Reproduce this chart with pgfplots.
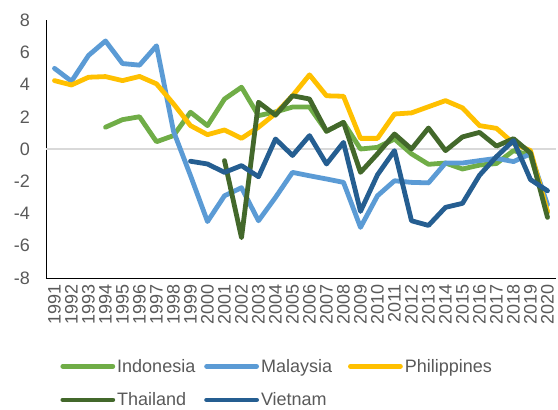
\documentclass[border=0pt]{standalone}
\usepackage{pgfplots}
\pgfplotsset{compat=1.18}
\usepackage{fontspec}
\setmainfont{Liberation Sans}
\definecolor{cIndo}{HTML}{70AD47}
\definecolor{cMal}{HTML}{5B9BD5}
\definecolor{cPhi}{HTML}{FFC000}
\definecolor{cTha}{HTML}{43682B}
\definecolor{cVie}{HTML}{255E91}
\definecolor{textgray}{HTML}{595959}
\definecolor{zerogray}{HTML}{D9D9D9}
\begin{document}
\begin{tikzpicture}
\path[use as bounding box] (-46pt,-132pt) rectangle (512pt,278pt);
\begin{axis}[
  at={(0pt,0pt)}, anchor=south west,
  scale only axis, width=510pt, height=258pt,
  xmin=1990.5, xmax=2020.5, ymin=-8, ymax=8,
  axis lines=none,
  xtick={1991,...,2020}, ytick={-8,-6,...,8},
  major tick length=0pt,
  /pgf/number format/assume math mode=true,
  /pgf/number format/1000 sep={},
  tick label style={font=\fontsize{18}{21}\selectfont, text=textgray},
  xticklabel style={rotate=90, anchor=east, inner sep=1pt, xshift=-5pt},
  yticklabel style={inner sep=1pt, xshift=-15pt},
  xticklabels={1991,1992,1993,1994,1995,1996,1997,1998,1999,2000,2001,2002,2003,2004,2005,2006,2007,2008,2009,2010,2011,2012,2013,2014,2015,2016,2017,2018,2019,2020},
  hide x axis=false, hide y axis=false,
  extra y ticks={0}, extra y tick labels={},
  extra y tick style={grid=major, major grid style={draw=zerogray, line width=1.3pt}},
  every axis plot/.append style={line width=4.8pt, line join=round, line cap=round, no markers},
  legend columns=3,
  legend cell align=left,
  legend image code/.code={\draw[#1] (0pt,0pt) -- (50pt,0pt);},
  legend style={at={(0.022,-0.298)}, anchor=north west, draw=none, fill=none,
    font=\fontsize{18}{21}\selectfont, text=textgray, row sep=15pt,
    /tikz/every even column/.append style={column sep=0pt, text width=85pt}},
]
\addplot[cIndo] coordinates {(1994,1.35)(1995,1.82)(1996,2.0)(1997,0.45)(1998,0.83)(1999,2.28)(2000,1.45)(2001,3.1)(2002,3.83)(2003,2.07)(2004,2.3)(2005,2.6)(2006,2.6)(2007,1.1)(2008,1.65)(2009,0.0)(2010,0.1)(2011,0.62)(2012,-0.3)(2013,-0.95)(2014,-0.87)(2015,-1.24)(2016,-1.0)(2017,-0.9)(2018,-0.1)(2019,-0.4)(2020,-3.9)};
\addlegendentry{Indonesia}
\addplot[cMal] coordinates {(1991,5.0)(1992,4.2)(1993,5.8)(1994,6.7)(1995,5.3)(1996,5.2)(1997,6.4)(1998,1.1)(1999,-1.65)(2000,-4.5)(2001,-2.9)(2002,-2.4)(2003,-4.45)(2004,-3.0)(2005,-1.45)(2006,-1.66)(2007,-1.86)(2008,-2.07)(2009,-4.86)(2010,-2.9)(2011,-1.97)(2012,-2.07)(2013,-2.1)(2014,-0.87)(2015,-0.87)(2016,-0.72)(2017,-0.58)(2018,-0.78)(2019,-0.3)(2020,-3.45)};
\addlegendentry{Malaysia}
\addplot[cPhi] coordinates {(1991,4.24)(1992,3.97)(1993,4.45)(1994,4.49)(1995,4.24)(1996,4.5)(1997,4.04)(1998,2.8)(1999,1.45)(2000,0.89)(2001,1.18)(2002,0.66)(2003,1.35)(2004,2.2)(2005,3.3)(2006,4.6)(2007,3.3)(2008,3.27)(2009,0.66)(2010,0.66)(2011,2.17)(2012,2.24)(2013,2.62)(2014,3.0)(2015,2.55)(2016,1.45)(2017,1.28)(2018,0.35)(2019,-0.1)(2020,-3.9)};
\addlegendentry{Philippines}
\addplot[cTha] coordinates {(2001,-0.72)(2002,-5.5)(2003,2.9)(2004,2.1)(2005,3.3)(2006,3.1)(2007,1.1)(2008,1.65)(2009,-1.45)(2010,-0.3)(2011,0.93)(2012,0.0)(2013,1.3)(2014,-0.1)(2015,0.75)(2016,1.03)(2017,0.18)(2018,0.64)(2019,-0.25)(2020,-4.24)};
\addlegendentry{Thailand}
\addplot[cVie] coordinates {(1999,-0.76)(2000,-0.93)(2001,-1.45)(2002,-1.03)(2003,-1.72)(2004,0.62)(2005,-0.4)(2006,0.83)(2007,-0.93)(2008,0.41)(2009,-3.87)(2010,-1.6)(2011,-0.1)(2012,-4.45)(2013,-4.74)(2014,-3.62)(2015,-3.37)(2016,-1.63)(2017,-0.47)(2018,0.52)(2019,-1.9)(2020,-2.59)};
\addlegendentry{Vietnam}
\end{axis}
\end{tikzpicture}
\end{document}
